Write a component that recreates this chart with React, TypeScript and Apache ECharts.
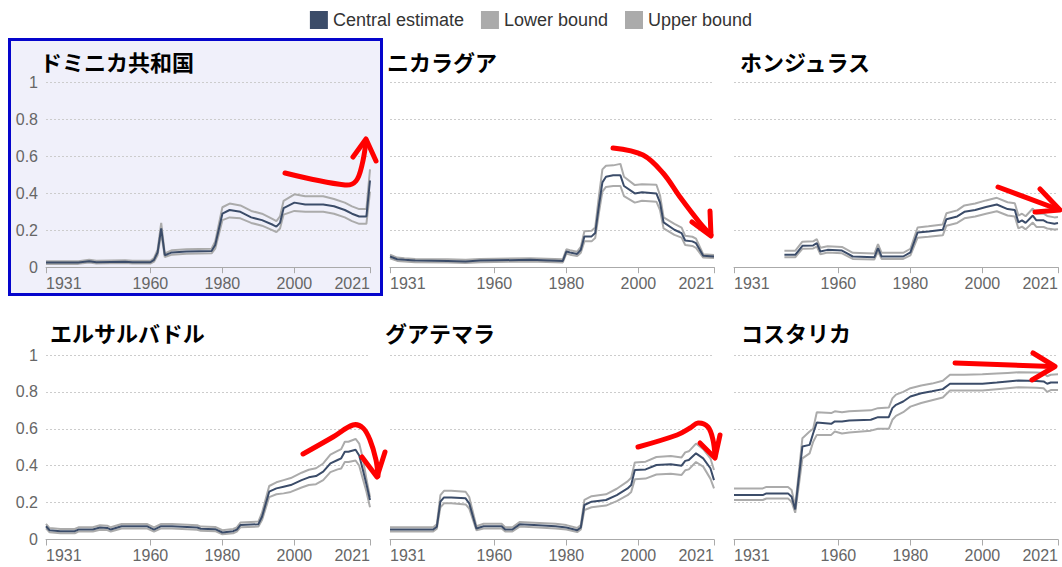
import React, { useEffect, useRef } from "react";
import * as echarts from "echarts";

const TICK_YEARS = [1931, 1960, 1980, 2000, 2021];
const SERIES_NAMES = ["Central estimate", "Lower bound", "Upper bound"];
const COUNTRIES = ["ドミニカ共和国", "ニカラグア", "ホンジュラス", "エルサルバドル", "グアテマラ", "コスタリカ"];

// Dominican Republic
const DOM_YEARS = [1931,1940,1943,1945,1953,1955,1960,1961,1962,1963,1964,1966,1970,1977,1978,1980,1982,1985,1988,1991,1994,1995,1996,1997,2000,2003,2008,2011,2014,2016,2018,2020,2021];
const DOM_C = [0.025,0.025,0.032,0.027,0.03,0.027,0.027,0.04,0.08,0.21,0.065,0.08,0.085,0.088,0.12,0.29,0.31,0.30,0.27,0.255,0.23,0.22,0.24,0.32,0.35,0.34,0.34,0.33,0.31,0.29,0.275,0.275,0.47];
const DOM_L = [0.018,0.018,0.025,0.02,0.023,0.02,0.02,0.03,0.065,0.185,0.055,0.068,0.073,0.075,0.10,0.255,0.27,0.265,0.24,0.225,0.20,0.19,0.21,0.285,0.305,0.30,0.30,0.29,0.27,0.25,0.235,0.235,0.41];
const DOM_U = [0.032,0.032,0.04,0.035,0.037,0.035,0.035,0.05,0.095,0.24,0.075,0.092,0.097,0.10,0.14,0.325,0.345,0.335,0.305,0.29,0.26,0.25,0.275,0.36,0.395,0.385,0.385,0.37,0.35,0.33,0.315,0.315,0.53];

// Nicaragua
const NIC_YEARS = [1931,1933,1935,1938,1947,1952,1956,1970,1979,1980,1981,1983,1984,1985,1987,1988,1989,1990,1991,1993,1995,1996,1999,2001,2005,2006,2007,2010,2012,2013,2015,2016,2018,2021];
const NIC_C = [0.058,0.043,0.04,0.036,0.034,0.031,0.036,0.04,0.034,0.085,0.08,0.072,0.094,0.167,0.167,0.185,0.33,0.46,0.49,0.498,0.498,0.44,0.40,0.406,0.40,0.35,0.243,0.203,0.185,0.145,0.14,0.13,0.062,0.058];
const NIC_L = [0.048,0.034,0.031,0.027,0.026,0.023,0.027,0.031,0.026,0.073,0.068,0.06,0.078,0.14,0.14,0.158,0.29,0.41,0.435,0.44,0.44,0.385,0.35,0.36,0.355,0.31,0.21,0.175,0.16,0.12,0.115,0.105,0.052,0.05];
const NIC_U = [0.068,0.052,0.049,0.045,0.043,0.04,0.045,0.049,0.043,0.097,0.092,0.084,0.11,0.195,0.198,0.215,0.38,0.53,0.55,0.552,0.56,0.49,0.445,0.45,0.447,0.39,0.27,0.235,0.215,0.17,0.165,0.155,0.07,0.066];

// Honduras
const HON_YEARS = [1945,1948,1950,1953,1954,1955,1957,1961,1964,1970,1971,1972,1978,1980,1982,1985,1989,1990,1993,1995,1998,2001,2004,2007,2009,2010,2011,2012,2014,2015,2017,2018,2020,2021];
const HON_C = [0.067,0.067,0.116,0.118,0.13,0.085,0.094,0.09,0.058,0.054,0.103,0.058,0.058,0.08,0.188,0.194,0.203,0.26,0.275,0.30,0.31,0.326,0.34,0.315,0.31,0.243,0.254,0.24,0.28,0.254,0.254,0.243,0.236,0.24];
const HON_L = [0.054,0.054,0.1,0.102,0.112,0.07,0.08,0.075,0.045,0.042,0.085,0.045,0.045,0.064,0.16,0.165,0.173,0.225,0.24,0.265,0.275,0.29,0.303,0.28,0.275,0.21,0.22,0.205,0.242,0.218,0.218,0.21,0.204,0.206];
const HON_U = [0.089,0.089,0.138,0.14,0.152,0.105,0.114,0.11,0.078,0.074,0.125,0.078,0.078,0.1,0.215,0.222,0.232,0.292,0.308,0.335,0.345,0.362,0.376,0.352,0.347,0.28,0.29,0.276,0.318,0.29,0.29,0.278,0.27,0.272];

// El Salvador
const SLV_YEARS = [1931,1932,1935,1939,1940,1944,1946,1948,1949,1952,1959,1961,1963,1966,1973,1974,1978,1980,1983,1984,1985,1990,1991,1993,1995,1997,1999,2002,2004,2006,2008,2010,2012,2013,2014,2015,2017,2018,2019,2020,2021];
const SLV_C = [0.072,0.05,0.045,0.045,0.054,0.054,0.065,0.063,0.054,0.072,0.072,0.054,0.072,0.072,0.065,0.058,0.056,0.038,0.045,0.054,0.078,0.083,0.123,0.259,0.277,0.286,0.295,0.322,0.337,0.344,0.368,0.413,0.431,0.44,0.476,0.476,0.486,0.455,0.38,0.30,0.214];
const SLV_L = [0.06,0.039,0.034,0.034,0.043,0.043,0.053,0.051,0.043,0.06,0.06,0.043,0.06,0.06,0.053,0.047,0.045,0.028,0.034,0.043,0.066,0.07,0.105,0.23,0.245,0.25,0.258,0.282,0.295,0.30,0.322,0.365,0.38,0.385,0.42,0.42,0.428,0.40,0.33,0.26,0.175];
const SLV_U = [0.085,0.062,0.057,0.057,0.066,0.066,0.077,0.075,0.066,0.084,0.084,0.066,0.084,0.084,0.077,0.07,0.068,0.05,0.057,0.066,0.092,0.097,0.145,0.29,0.31,0.322,0.333,0.362,0.378,0.386,0.412,0.46,0.48,0.49,0.53,0.53,0.545,0.52,0.44,0.33,0.23];

// Guatemala
const GTM_YEARS = [1931,1943,1944,1945,1946,1948,1952,1953,1955,1957,1962,1963,1965,1967,1971,1977,1980,1983,1984,1985,1987,1991,1994,1997,1998,1999,2002,2005,2009,2012,2013,2014,2016,2018,2020,2021];
const GTM_C = [0.054,0.054,0.069,0.205,0.228,0.228,0.223,0.196,0.06,0.072,0.072,0.054,0.054,0.082,0.078,0.072,0.065,0.05,0.065,0.187,0.205,0.214,0.241,0.277,0.295,0.377,0.38,0.404,0.408,0.40,0.426,0.431,0.467,0.44,0.386,0.322];
const GTM_L = [0.044,0.044,0.058,0.175,0.196,0.196,0.19,0.168,0.05,0.06,0.06,0.044,0.044,0.07,0.066,0.06,0.054,0.04,0.054,0.16,0.175,0.184,0.208,0.24,0.258,0.326,0.33,0.352,0.356,0.35,0.375,0.38,0.42,0.395,0.33,0.277];
const GTM_U = [0.066,0.066,0.082,0.24,0.264,0.264,0.259,0.23,0.072,0.085,0.085,0.066,0.066,0.095,0.091,0.085,0.078,0.062,0.078,0.215,0.235,0.245,0.275,0.315,0.335,0.418,0.422,0.447,0.452,0.445,0.472,0.478,0.52,0.49,0.44,0.377];

// Costa Rica
const CRI_YEARS = [1931,1939,1940,1946,1947,1948,1950,1952,1953,1954,1958,1959,1961,1963,1969,1971,1974,1975,1976,1978,1980,1983,1986,1989,1991,1995,2000,2004,2007,2010,2015,2017,2018,2019,2021];
const CRI_C = [0.241,0.241,0.25,0.25,0.232,0.163,0.504,0.513,0.576,0.634,0.627,0.64,0.64,0.645,0.649,0.663,0.663,0.712,0.73,0.748,0.775,0.793,0.803,0.815,0.844,0.844,0.844,0.851,0.857,0.862,0.859,0.857,0.844,0.851,0.851];
const CRI_L = [0.214,0.214,0.222,0.222,0.205,0.145,0.44,0.467,0.53,0.567,0.567,0.585,0.575,0.58,0.59,0.6,0.6,0.649,0.67,0.69,0.72,0.74,0.755,0.77,0.808,0.808,0.808,0.815,0.82,0.825,0.823,0.82,0.8,0.81,0.81];
const CRI_U = [0.277,0.277,0.285,0.285,0.268,0.18,0.549,0.585,0.60,0.69,0.685,0.695,0.69,0.695,0.70,0.712,0.715,0.765,0.785,0.80,0.82,0.835,0.845,0.86,0.893,0.893,0.895,0.9,0.903,0.906,0.905,0.903,0.885,0.893,0.895];

const PANEL_YEARS = [DOM_YEARS, NIC_YEARS, HON_YEARS, SLV_YEARS, GTM_YEARS, CRI_YEARS];
const PANEL_C = [DOM_C, NIC_C, HON_C, SLV_C, GTM_C, CRI_C];
const PANEL_L = [DOM_L, NIC_L, HON_L, SLV_L, GTM_L, CRI_L];
const PANEL_U = [DOM_U, NIC_U, HON_U, SLV_U, GTM_U, CRI_U];

const COLORS = { central: "#3b4c69", bound: "#ababab" };
const FONT = "'Liberation Sans', Arial, sans-serif";
const CJK = "'Noto Sans CJK JP', sans-serif";

// Layout (pixels)
const COL_LEFT = [46, 390, 734];
const ROW_TOP = [82.7, 355];
const GRID_W = 324;
const GRID_H = 184.5;
const TITLE_X = [40, 387, 740, 50, 385, 741];
const TITLE_Y = [61, 332];

// Red hand-drawn arrows (annotations)
const ARROWS = [
  { path: [[285, 173], [345, 185], [356, 181], [362, 165], [366, 142]], head: [[353, 157], [366, 139], [376, 161]] },
  { path: [[613, 148], [643, 155], [663, 173], [680, 197], [700, 223], [711, 235]], head: [[692, 222], [711, 236], [710, 211]] },
  { path: [[998, 187], [1057, 209]], head: [[1040, 189], [1060, 210], [1035, 212]] },
  { path: [[303, 454], [333, 437], [353, 425], [363, 428], [370, 440], [376, 460], [378, 476]], head: [[362, 457], [377, 477], [385, 452]] },
  { path: [[638, 447], [677, 435], [690, 428], [698, 423], [708, 427], [713, 440], [715, 456]], head: [[700, 443], [715, 458], [720, 435]] },
  { path: [[955, 363], [1052, 366.5]], head: [[1033, 353], [1055, 366.5], [1032, 380]] },
];

function zip(xs: number[], ys: number[]) {
  return xs.map((x, i) => [x, ys[i]]);
}

export default function App() {
  const ref = useRef<HTMLDivElement>(null);
  useEffect(() => {
    if (!ref.current) return;
    const chart = echarts.init(ref.current, undefined, { renderer: "svg" });
    const grids: any[] = [];
    const xAxes: any[] = [];
    const yAxes: any[] = [];
    const series: any[] = [];
    const graphics: any[] = [];

    graphics.push({
      type: "rect",
      z: -10,
      silent: true,
      shape: { x: 9.5, y: 39.5, width: 372, height: 255 },
      style: { fill: "#f0f0fa", stroke: "#0505cc", lineWidth: 3 },
    });

    for (let i = 0; i < 6; i++) {
      const col = i % 3;
      const row = Math.floor(i / 3);
      grids.push({ left: COL_LEFT[col], top: ROW_TOP[row], width: GRID_W, height: GRID_H, containLabel: false });
      xAxes.push({
        type: "value",
        gridIndex: i,
        min: 1931,
        max: 2021,
        axisLine: { show: true, lineStyle: { color: "#aaa", width: 1 } },
        axisTick: { show: true, customValues: TICK_YEARS, length: 6, lineStyle: { color: "#aaa" } },
        axisLabel: {
          customValues: TICK_YEARS,
          formatter: (v: number) => String(v),
          color: "#666",
          fontSize: 16,
          fontFamily: FONT,
          margin: 8,
          showMinLabel: true,
          showMaxLabel: true,
          alignMinLabel: "left",
          alignMaxLabel: "right",
          hideOverlap: false,
        },
        splitLine: { show: false },
      });
      yAxes.push({
        type: "value",
        gridIndex: i,
        min: 0,
        max: 1,
        interval: 0.2,
        axisLine: { show: false },
        axisTick: { show: false },
        axisLabel: {
          show: col === 0,
          color: "#666",
          fontSize: 16,
          fontFamily: FONT,
          margin: 8,
          formatter: (v: number) => String(Math.round(v * 10) / 10),
        },
        splitLine: { show: true, lineStyle: { color: "#ccc", type: [2, 2], width: 1 } },
      });
      const dataSets = [PANEL_C[i], PANEL_L[i], PANEL_U[i]];
      [1, 2, 0].forEach((k) => {
        const color = k === 0 ? COLORS.central : COLORS.bound;
        series.push({
          name: SERIES_NAMES[k],
          type: "line",
          xAxisIndex: i,
          yAxisIndex: i,
          data: zip(PANEL_YEARS[i], dataSets[k]),
          showSymbol: false,
          symbol: "none",
          z: k === 0 ? 4 : 3,
          itemStyle: { color },
          lineStyle: { color, width: 2 },
          emphasis: { disabled: true },
        });
      });
      graphics.push({
        type: "text",
        x: TITLE_X[i],
        y: TITLE_Y[row],
        style: {
          text: COUNTRIES[i],
          fill: "#000",
          font: `bold 22px ${CJK}`,
          verticalAlign: "middle",
          align: "left",
        },
      });
    }

    ARROWS.forEach((a) => {
      graphics.push({
        type: "polyline",
        z: 100,
        shape: { points: a.path, smooth: a.path.length > 2 ? 0.35 : 0 },
        style: { stroke: "#ff0000", lineWidth: 5, fill: null, lineCap: "round", lineJoin: "round" },
      });
      graphics.push({
        type: "polyline",
        z: 100,
        shape: { points: a.head },
        style: { stroke: "#ff0000", lineWidth: 5, fill: null, lineCap: "round", lineJoin: "round" },
      });
    });

    chart.setOption({
      animation: false,
      backgroundColor: "#fff",
      legend: {
        data: SERIES_NAMES,
        top: 6,
        left: "center",
        icon: "rect",
        itemWidth: 18,
        itemHeight: 18,
        itemGap: 17,
        textStyle: { fontSize: 18, color: "#333", fontFamily: FONT },
        selectedMode: false,
      },
      grid: grids,
      xAxis: xAxes,
      yAxis: yAxes,
      series,
      graphic: graphics,
    });
    return () => chart.dispose();
  }, []);
  return <div ref={ref} style={{ position: "absolute", left: 0, top: 0, width: 1062, height: 567 }} />;
}
